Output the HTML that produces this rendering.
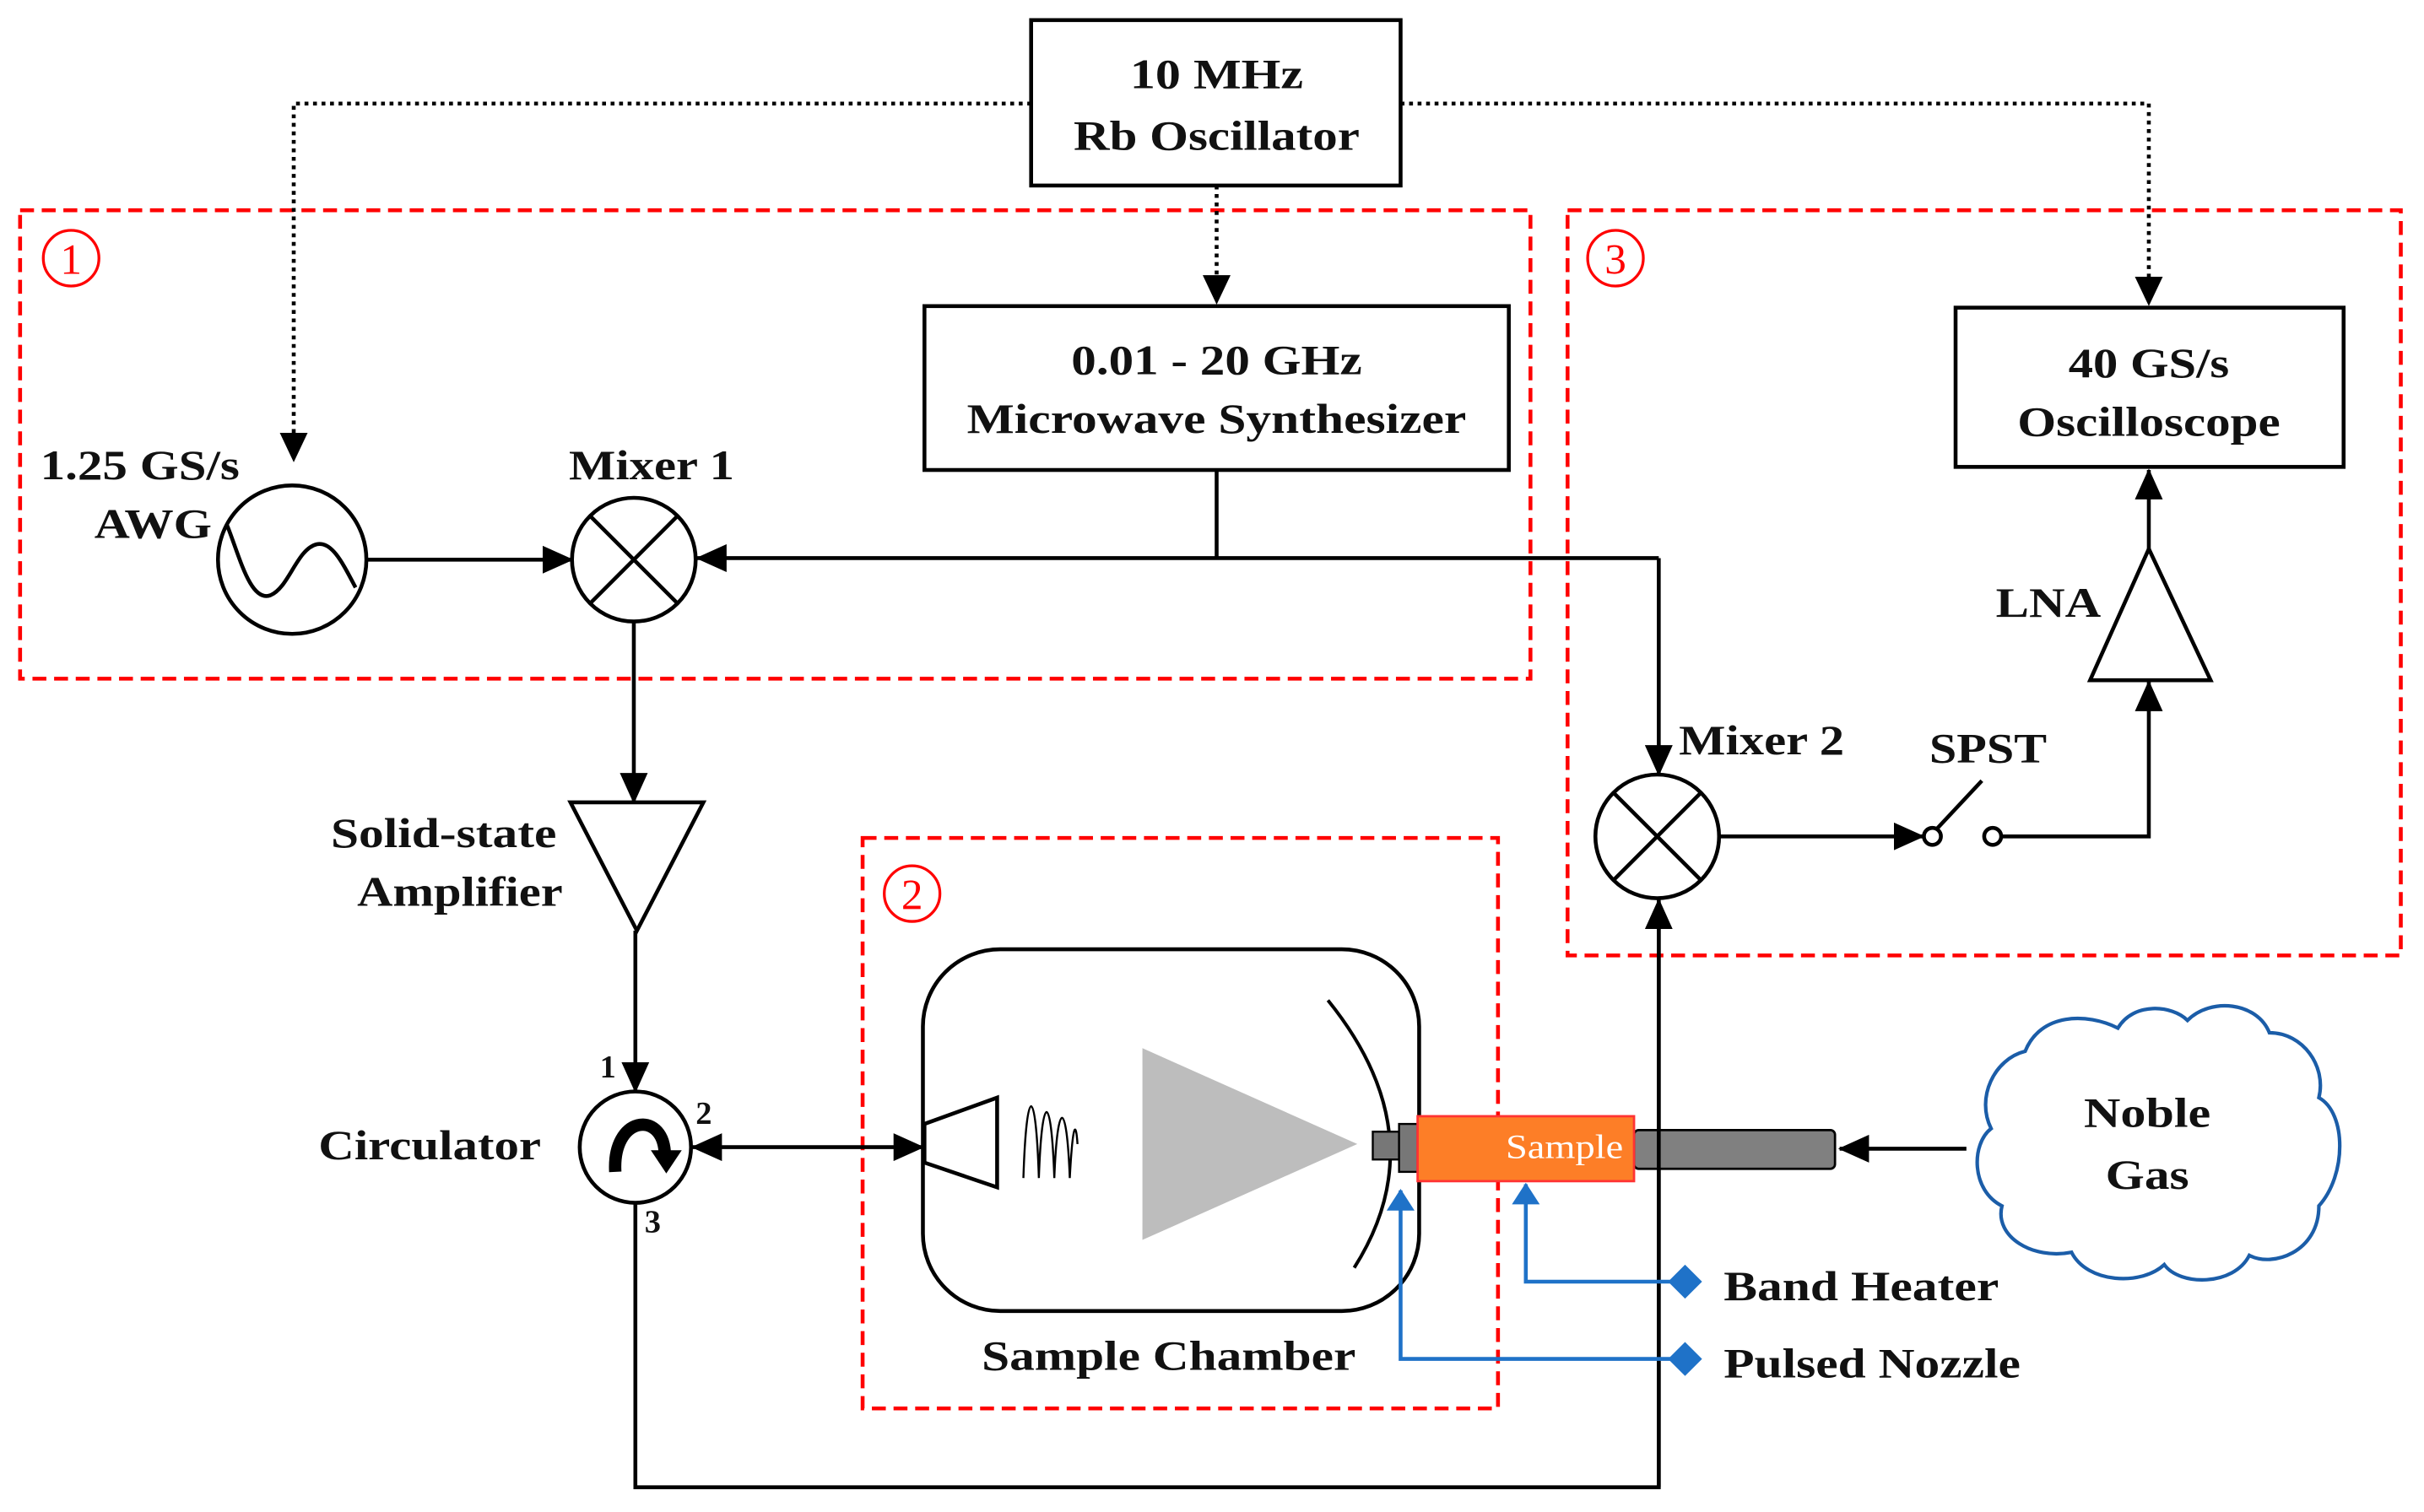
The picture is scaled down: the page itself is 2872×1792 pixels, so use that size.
<!DOCTYPE html>
<html><head><meta charset="utf-8"><style>
html,body{margin:0;padding:0;background:#fff;}
svg{display:block;}
text{font-family:"Liberation Serif",serif;font-weight:bold;fill:#111;}
</style></head><body>
<svg width="2872" height="1792" viewBox="0 0 1568 978" preserveAspectRatio="none" xmlns="http://www.w3.org/2000/svg">
<defs>
<marker id="a" viewBox="0 0 20 18" refX="19" refY="9" markerWidth="20" markerHeight="18" orient="auto-start-reverse" markerUnits="userSpaceOnUse"><path d="M0,0 L20,9 L0,18 z" fill="#000"/></marker>
<marker id="ab" viewBox="0 0 14 18" refX="13" refY="9" markerWidth="16" markerHeight="18" orient="auto" markerUnits="userSpaceOnUse"><path d="M0,0 L14,9 L0,18 z" fill="#1f72c8"/></marker>
</defs>
<g fill="none" stroke="#000" stroke-width="2.5">
<rect x="13" y="136" width="977" height="303" stroke="#f00" stroke-dasharray="9,5"/>
<rect x="1014" y="136" width="539" height="482" stroke="#f00" stroke-dasharray="9,5"/>
<rect x="558" y="542" width="411" height="369" stroke="#f00" stroke-dasharray="9,5"/>
<g stroke-dasharray="2.5,3" stroke-width="2.5">
<path d="M667,67 H190 V282"/>
<path d="M906,67 H1390 V180"/>
<path d="M787,120 V179"/>
</g>
<path d="M181,280 L199,280 L190,299z" fill="#000" stroke="none"/>
<path d="M1381,179 L1399,179 L1390,198z" fill="#000" stroke="none"/>
<path d="M778,178 L796,178 L787,197z" fill="#000" stroke="none"/>
<rect x="667" y="13" width="239" height="107"/>
<rect x="598" y="198" width="378" height="106"/>
<rect x="1265" y="199" width="251" height="103"/>
<circle cx="189" cy="362" r="48"/>
<path d="M147,340 C155,360 162,390 175,385 C187,380 192,355 205,352 C215,350 222,365 230,380"/>
<circle cx="410" cy="362" r="40"/>
<path d="M382,334 L438,390 M438,334 L382,390"/>
<path d="M237,362 H370" marker-end="url(#a)"/>
<path d="M787,304 V361"/>
<path d="M1073,361 H451" marker-end="url(#a)"/>
<path d="M1073,361 V501" marker-end="url(#a)"/>
<circle cx="1072" cy="541" r="40"/>
<path d="M1044,513 L1100,569 M1100,513 L1044,569"/>
<path d="M1112,541 H1244" marker-end="url(#a)"/>
<circle cx="1250" cy="541" r="5.5"/>
<circle cx="1289" cy="541" r="5.5"/>
<path d="M1253,536 L1282,505"/>
<path d="M1295,541 H1390 V441" marker-end="url(#a)"/>
<path d="M1390,355 L1430,440 L1352,440z"/>
<path d="M1390,355 V304" marker-end="url(#a)"/>
<path d="M410,402 V519" marker-end="url(#a)"/>
<path d="M369,519 L455,519 L412,602z"/>
<path d="M411,602 V706" marker-end="url(#a)"/>
<circle cx="411" cy="742" r="36"/>
<path d="M398,758 C396,722 428,718 430,745" stroke-width="8"/>
<path d="M421,744 L441,744 L431,759z" fill="#000" stroke="none"/>
<path d="M448,742 H597" marker-end="url(#a)" marker-start="url(#a)"/>
<path d="M411,778 V962 H1073 V582" marker-end="url(#a)"/>
<rect x="597" y="614" width="321" height="234" rx="50"/>
<path d="M598,727 L645,710 L645,768 L598,752z"/>
<path d="M662,762 C664,700 670,700 672,762 C674,705 680,705 682,762 C684,710 690,710 692,762 C694,725 696,725 697,740" stroke-width="1.3"/>
<polygon points="739,678 739,802 878,740" fill="#bdbdbd" stroke="none"/>
<path d="M859,647 Q930,735 876,820" stroke-width="2.2"/>
<rect x="888" y="732" width="17" height="18" fill="#777" stroke-width="1.3"/>
<rect x="905" y="727" width="12" height="31" fill="#777" stroke-width="1.3"/>
<rect x="1057" y="731" width="130" height="25" rx="3" fill="#808080" stroke-width="1.5"/>
<rect x="917" y="722" width="140" height="42" fill="#fd7e27" stroke="#f33" stroke-width="1.5"/>
<path d="M1073,583 V962"/>
<path d="M1272,743 H1190" marker-end="url(#a)"/>
<path d="M1310,680 C1320,655 1350,655 1370,665 C1380,648 1405,650 1415,660 C1430,645 1460,648 1468,668 C1490,668 1505,690 1500,710 C1518,720 1518,760 1500,780 C1500,810 1470,820 1455,812 C1445,832 1410,832 1400,818 C1385,832 1350,830 1340,810 C1315,815 1290,800 1295,780 C1275,770 1275,740 1288,730 C1278,710 1290,685 1310,680 z" stroke="#1b5da8" stroke-width="2.3"/>
<path d="M1090,829 H987 V766" stroke="#1f72c8" stroke-width="2.5" marker-end="url(#ab)"/>
<path d="M1090,879 H906 V770" stroke="#1f72c8" stroke-width="2.5" marker-end="url(#ab)"/>
<path d="M1090,818 L1101,829 L1090,840 L1079,829z" fill="#1f72c8" stroke="none"/>
<path d="M1090,868 L1101,879 L1090,890 L1079,879z" fill="#1f72c8" stroke="none"/>
<g stroke="#f00" stroke-width="1.8">
<circle cx="46" cy="167" r="18"/>
<circle cx="590" cy="578" r="18"/>
<circle cx="1045" cy="167" r="18"/>
</g>
</g>
<g font-size="27">
<text x="787" y="57" text-anchor="middle" textLength="112" lengthAdjust="spacingAndGlyphs">10 MHz</text>
<text x="787" y="97" text-anchor="middle" textLength="185" lengthAdjust="spacingAndGlyphs">Rb Oscillator</text>
<text x="787" y="242" text-anchor="middle" textLength="188" lengthAdjust="spacingAndGlyphs">0.01 - 20 GHz</text>
<text x="787" y="280" text-anchor="middle" textLength="323" lengthAdjust="spacingAndGlyphs">Microwave Synthesizer</text>
<text x="1390" y="244" text-anchor="middle" textLength="104" lengthAdjust="spacingAndGlyphs">40 GS/s</text>
<text x="1390" y="282" text-anchor="middle" textLength="170" lengthAdjust="spacingAndGlyphs">Oscilloscope</text>
<text x="26" y="310" textLength="129" lengthAdjust="spacingAndGlyphs">1.25 GS/s</text>
<text x="61" y="348" textLength="76" lengthAdjust="spacingAndGlyphs">AWG</text>
<text x="368" y="310" textLength="107" lengthAdjust="spacingAndGlyphs">Mixer 1</text>
<text x="1086" y="488" textLength="107" lengthAdjust="spacingAndGlyphs">Mixer 2</text>
<text x="1248" y="493" textLength="76" lengthAdjust="spacingAndGlyphs">SPST</text>
<text x="1291" y="399" textLength="68" lengthAdjust="spacingAndGlyphs">LNA</text>
<text x="214" y="548" textLength="146" lengthAdjust="spacingAndGlyphs">Solid-state</text>
<text x="231" y="586" textLength="133" lengthAdjust="spacingAndGlyphs">Amplifier</text>
<text x="206" y="750" textLength="144" lengthAdjust="spacingAndGlyphs">Circulator</text>
<text x="635" y="886" textLength="242" lengthAdjust="spacingAndGlyphs">Sample Chamber</text>
<text x="1115" y="841" textLength="178" lengthAdjust="spacingAndGlyphs">Band Heater</text>
<text x="1115" y="891" textLength="192" lengthAdjust="spacingAndGlyphs">Pulsed Nozzle</text>
<text x="1389" y="729" text-anchor="middle" textLength="82" lengthAdjust="spacingAndGlyphs">Noble</text>
<text x="1389" y="769" text-anchor="middle" textLength="54" lengthAdjust="spacingAndGlyphs">Gas</text>
</g>
<g font-size="21">
<text x="388" y="697">1</text>
<text x="450" y="727">2</text>
<text x="417" y="797">3</text>
</g>
<text x="1012" y="749" text-anchor="middle" font-size="22" style="fill:#fff;font-weight:normal" textLength="76" lengthAdjust="spacingAndGlyphs">Sample</text>
<g font-size="28" text-anchor="middle" style="font-weight:normal">
<text x="46" y="177" style="fill:#f00;font-weight:normal">1</text>
<text x="590" y="588" style="fill:#f00;font-weight:normal">2</text>
<text x="1045" y="177" style="fill:#f00;font-weight:normal">3</text>
</g>
</svg>
</body></html>
